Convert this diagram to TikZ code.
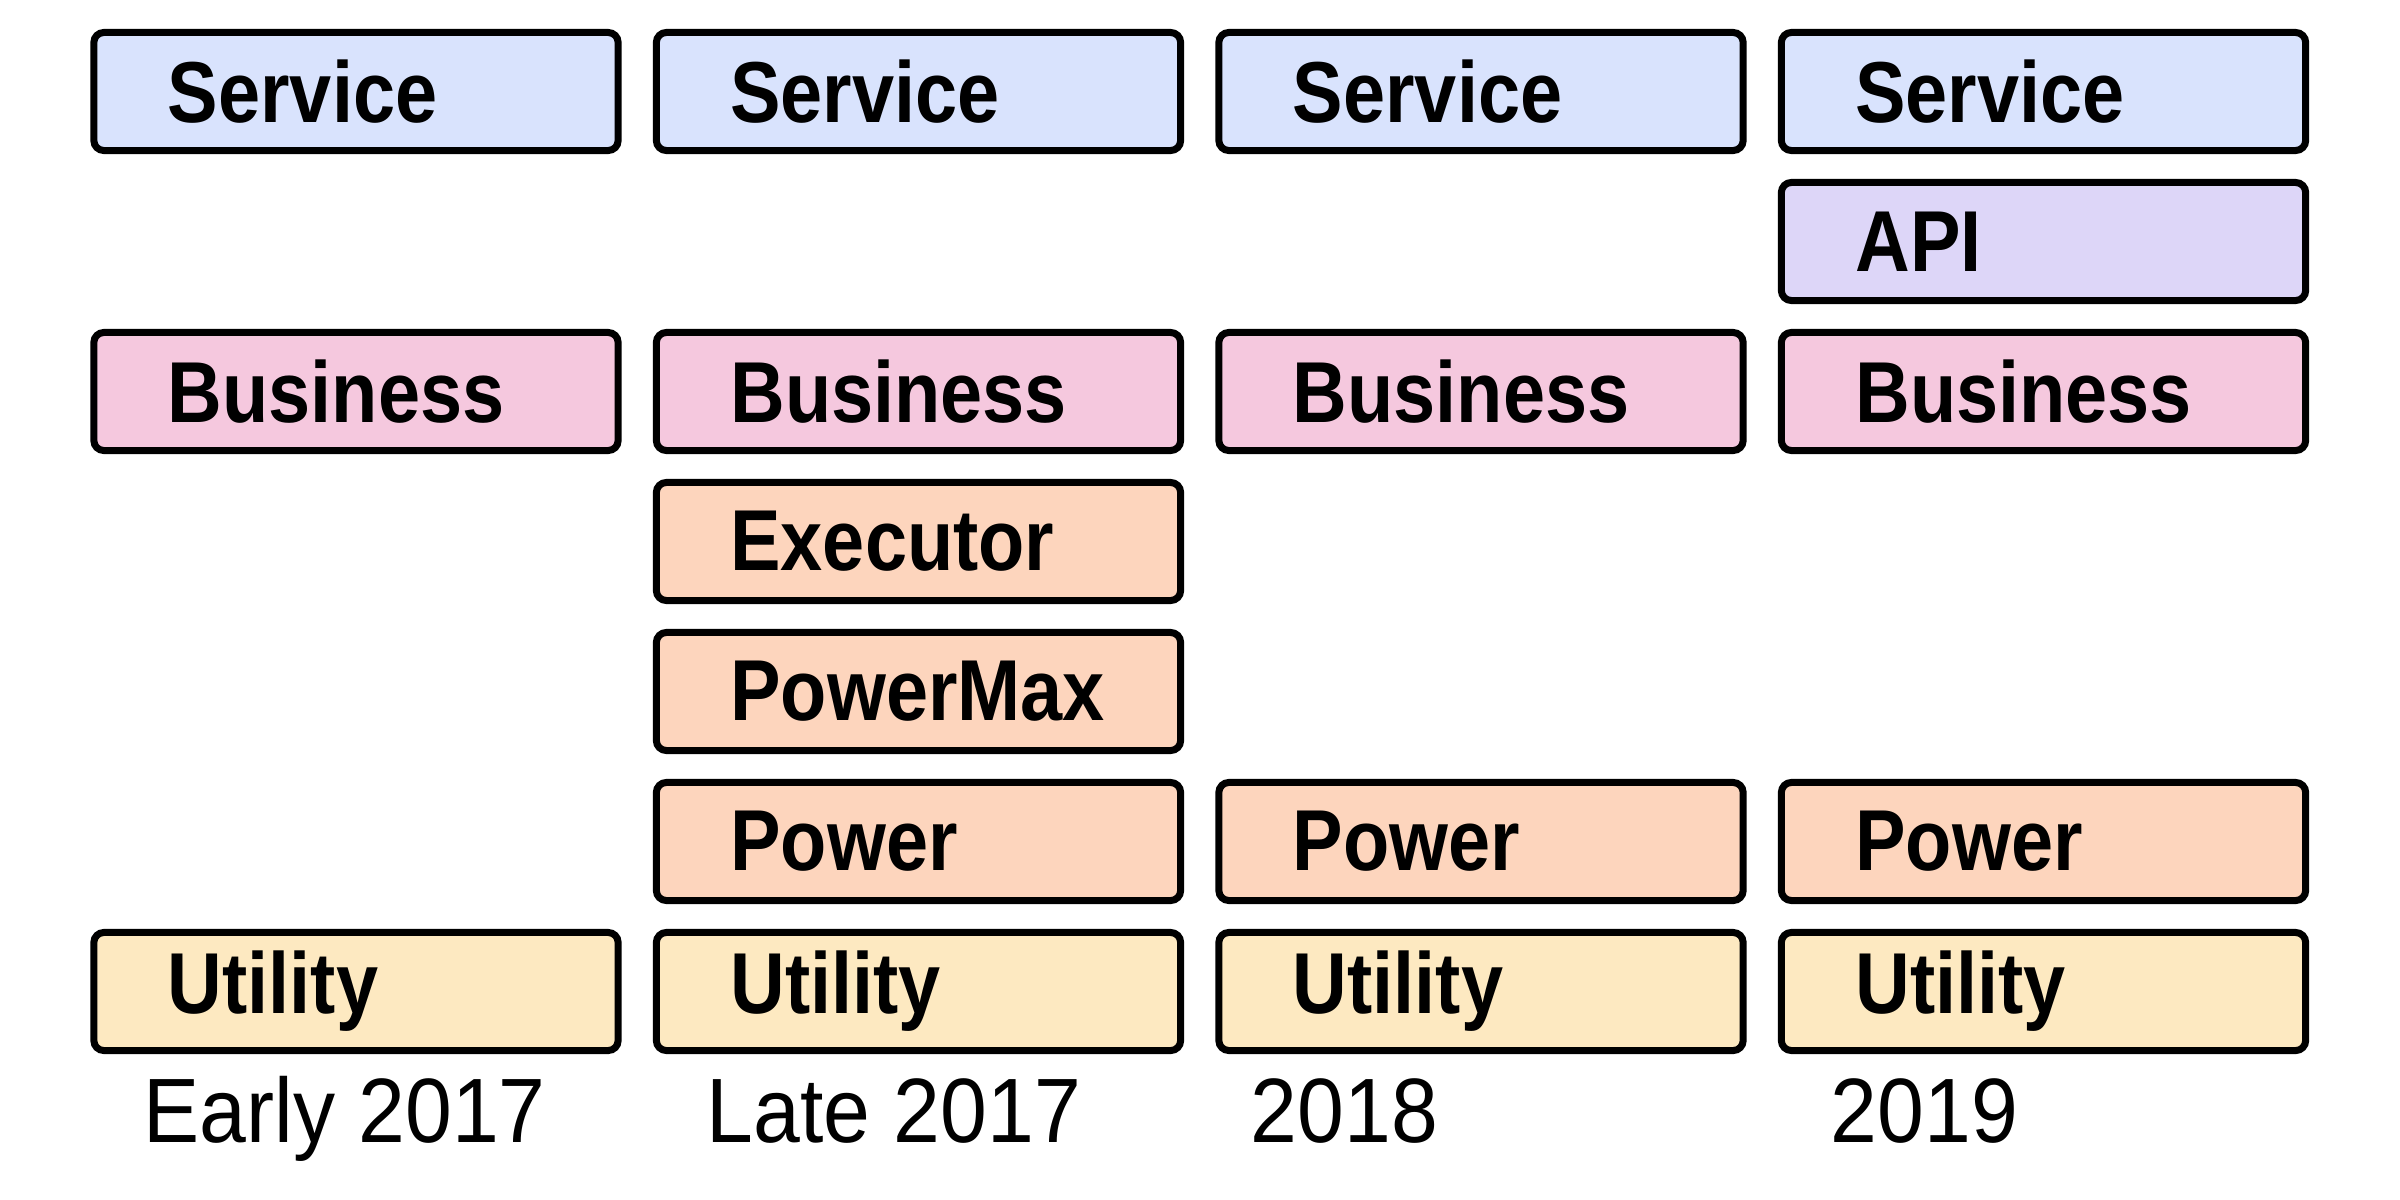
\documentclass[tikz,border=0pt]{standalone}
\usepackage{fontspec}
\newfontfamily\boxfont[FakeStretch=0.875]{Liberation Sans}
\newfontfamily\yearfont[FakeStretch=0.92]{Liberation Sans}
\definecolor{cService}{HTML}{D9E3FD}
\definecolor{cApi}{HTML}{DDD6F8}
\definecolor{cBusiness}{HTML}{F5C8DE}
\definecolor{cPower}{HTML}{FDD5BD}
\definecolor{cUtility}{HTML}{FDE9C1}
\tikzset{
  layerbox/.style={draw=black, line width=0.07cm, rounded corners=0.1cm,
    minimum width=5.24cm, minimum height=1.18cm, inner xsep=0.74cm, inner ysep=0pt,
    text width=3.76cm, align=left,
    font=\boxfont\bfseries\fontsize{24.6pt}{26pt}\selectfont},
  yearlabel/.style={anchor=base west, inner sep=0pt,
    font=\yearfont\fontsize{26pt}{27pt}\selectfont},
}
\begin{document}
\begin{tikzpicture}[x=0.01cm,y=-0.01cm]
\useasboundingbox[fill=white] (0,0) rectangle (2400,1200);
% columns: x centres 356, 918.5, 1481, 2043.5 ; rows: y centres 91.5 + 150 k
% Early 2017
\node[layerbox, fill=cService]  (s1) at (356,91.5) {Service};
\node[layerbox, fill=cBusiness] (b1) at (356,391.5) {Business};
\node[layerbox, fill=cUtility]  (u1) at (356,991.5) {Utility};
% Late 2017
\node[layerbox, fill=cService]  (s2) at (918.5,91.5) {Service};
\node[layerbox, fill=cBusiness] (b2) at (918.5,391.5) {Business};
\node[layerbox, fill=cPower]    (e2) at (918.5,541.5) {Executor};
\node[layerbox, fill=cPower]    (m2) at (918.5,691.5) {PowerMax};
\node[layerbox, fill=cPower]    (p2) at (918.5,841.5) {Power};
\node[layerbox, fill=cUtility]  (u2) at (918.5,991.5) {Utility};
% 2018
\node[layerbox, fill=cService]  (s3) at (1481,91.5) {Service};
\node[layerbox, fill=cBusiness] (b3) at (1481,391.5) {Business};
\node[layerbox, fill=cPower]    (p3) at (1481,841.5) {Power};
\node[layerbox, fill=cUtility]  (u3) at (1481,991.5) {Utility};
% 2019
\node[layerbox, fill=cService]  (s4) at (2043.5,91.5) {Service};
\node[layerbox, fill=cApi]      (a4) at (2043.5,241.5) {API};
\node[layerbox, fill=cBusiness] (b4) at (2043.5,391.5) {Business};
\node[layerbox, fill=cPower]    (p4) at (2043.5,841.5) {Power};
\node[layerbox, fill=cUtility]  (u4) at (2043.5,991.5) {Utility};
% year labels
\node[yearlabel] (y1) at (143,1142) {Early 2017};
\node[yearlabel] (y2) at (706,1142) {Late 2017};
\node[yearlabel] (y3) at (1250,1142) {2018};
\node[yearlabel] (y4) at (1830,1142) {2019};
\end{tikzpicture}
\end{document}
